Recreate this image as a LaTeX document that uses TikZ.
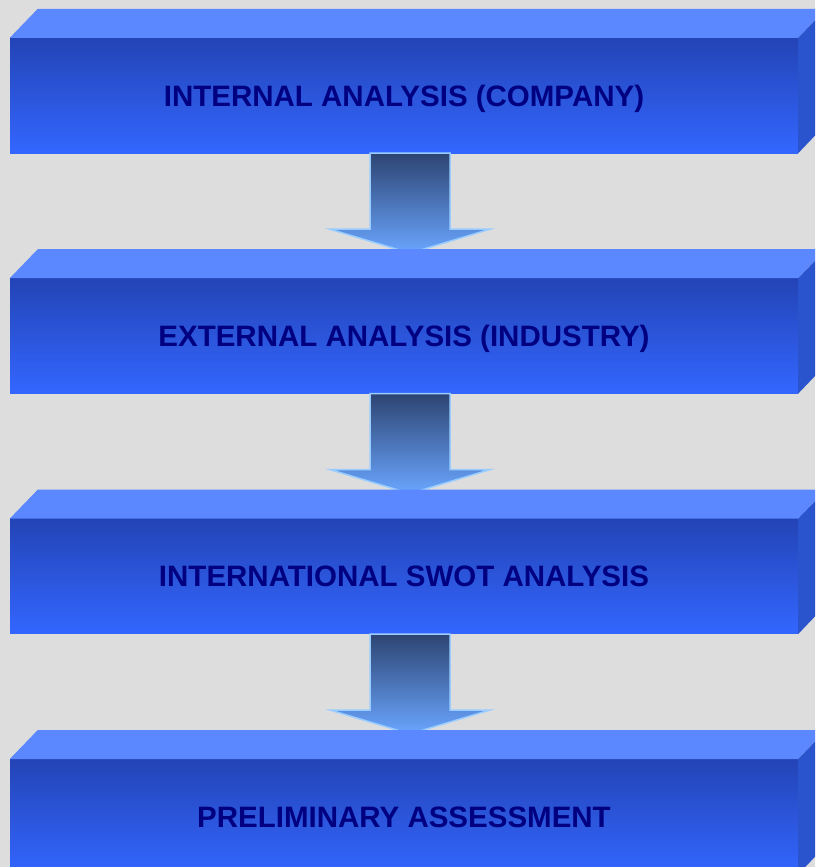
\documentclass[tikz,border=0pt]{standalone}
\usepackage{fontspec}
\setmainfont{Liberation Sans}
\usetikzlibrary{positioning}
\definecolor{bggray}{HTML}{DDDDDD}
\definecolor{frontTop}{HTML}{2344B6}
\definecolor{frontBot}{HTML}{3366FF}
\definecolor{topBlue}{HTML}{5B87FF}
\definecolor{sideBlue}{HTML}{2A53CE}
\definecolor{arrowTop}{HTML}{2D4472}
\definecolor{arrowBot}{HTML}{6AA6FF}
\definecolor{arrowEdge}{HTML}{99CCFF}
\definecolor{navyText}{HTML}{000080}

\begin{document}
\begin{tikzpicture}[x = 1pt, y = -1pt,
  stage/.style = {rectangle, inner sep = 0pt, minimum width = 788pt, minimum height = 115pt,
    text height = 21pt, text depth = 0pt,
    top color = frontTop, bottom color = frontBot, text = navyText,
    font = \bfseries\fontsize{29.5}{34}\selectfont},
  topface/.style = {fill = topBlue},
  sideface/.style = {fill = sideBlue},
  flowarrow/.style = {draw = arrowEdge, line width = 1.5pt, line join = miter,
    top color = arrowTop, bottom color = arrowBot}]
\useasboundingbox (0,0) rectangle (815,867);
\clip (0,0) rectangle (815,867);
\fill[bggray] (0,0) rectangle (815,867);

\node[stage] (internal) at (404,95.5) {INTERNAL ANALYSIS (COMPANY)};
\node[stage, below = 125pt of internal] (external) {EXTERNAL ANALYSIS (INDUSTRY)};
\node[stage, below = 125pt of external] (swot) {INTERNATIONAL SWOT ANALYSIS};
\node[stage, below = 125pt of swot] (assess) {PRELIMINARY ASSESSMENT};

\draw[flowarrow] ([xshift = -34pt]internal.south) -- ++(0,76) -- ++(-40,0) -- ++(80,24) -- ++(80,-24) -- ++(-40,0) -- ++(0,-76) -- cycle;
\draw[flowarrow] ([xshift = -34pt]external.south) -- ++(0,76) -- ++(-40,0) -- ++(80,24) -- ++(80,-24) -- ++(-40,0) -- ++(0,-76) -- cycle;
\draw[flowarrow] ([xshift = -34pt]swot.south) -- ++(0,76) -- ++(-40,0) -- ++(80,24) -- ++(80,-24) -- ++(-40,0) -- ++(0,-76) -- cycle;

\fill[topface] (internal.north west) -- ++(28,-29) -- ++(788,0) -- (internal.north east) -- cycle;
\fill[sideface] (internal.north east) -- ++(28,-29) -- ++(0,115) -- (internal.south east) -- cycle;
\fill[topface] (external.north west) -- ++(28,-29) -- ++(788,0) -- (external.north east) -- cycle;
\fill[sideface] (external.north east) -- ++(28,-29) -- ++(0,115) -- (external.south east) -- cycle;
\fill[topface] (swot.north west) -- ++(28,-29) -- ++(788,0) -- (swot.north east) -- cycle;
\fill[sideface] (swot.north east) -- ++(28,-29) -- ++(0,115) -- (swot.south east) -- cycle;
\fill[topface] (assess.north west) -- ++(28,-29) -- ++(788,0) -- (assess.north east) -- cycle;
\fill[sideface] (assess.north east) -- ++(28,-29) -- ++(0,115) -- (assess.south east) -- cycle;
\end{tikzpicture}
\end{document}
